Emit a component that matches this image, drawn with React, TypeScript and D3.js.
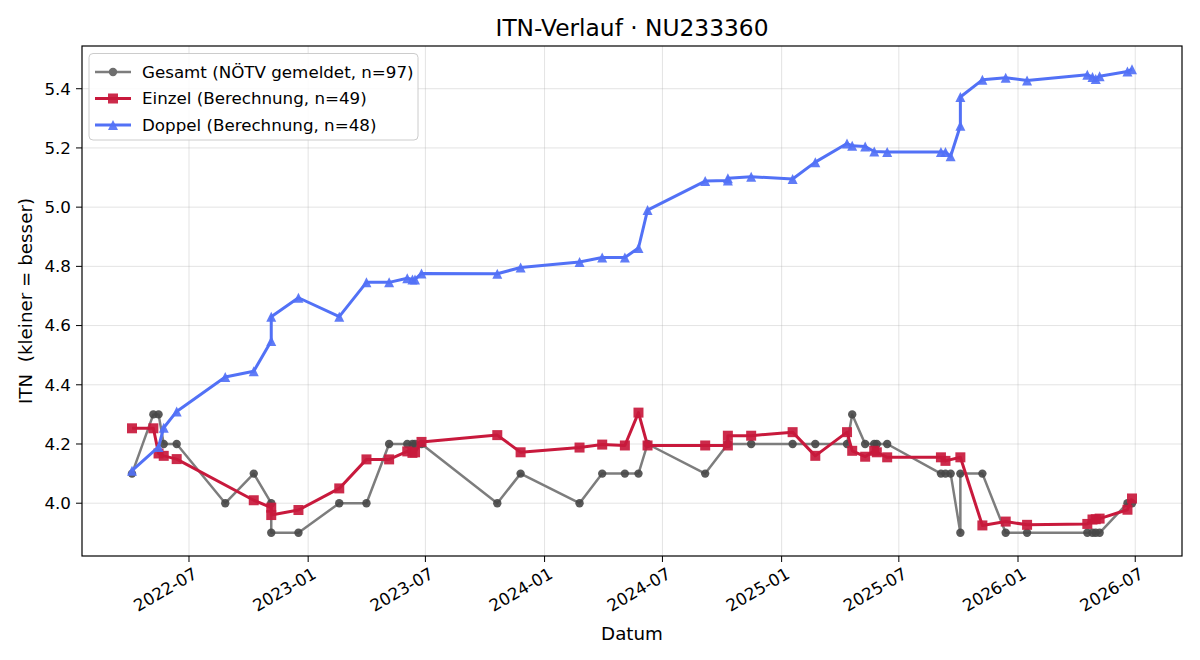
import React from 'react';
import * as d3 from 'd3';

// Gesamt (NÖTV gemeldet)
const gesamtDates = [
  '2022-04-04', '2022-05-07', '2022-05-15', '2022-05-23', '2022-06-12', '2022-08-26', '2022-10-09',
  '2022-11-05', '2022-11-05', '2022-12-17', '2023-02-18', '2023-04-01', '2023-05-06', '2023-06-03',
  '2023-06-11', '2023-06-15', '2023-06-25', '2023-10-20', '2023-11-25', '2024-02-24', '2024-03-30',
  '2024-05-04', '2024-05-25', '2024-06-08', '2024-09-05', '2024-10-10', '2024-11-15', '2025-01-18',
  '2025-02-22', '2025-04-12', '2025-04-20', '2025-05-10', '2025-05-24', '2025-05-28', '2025-06-13',
  '2025-09-04', '2025-09-11', '2025-09-19', '2025-10-04', '2025-10-04', '2025-11-07', '2025-12-13',
  '2026-01-15', '2026-04-18', '2026-04-26', '2026-05-01', '2026-05-07', '2026-06-19', '2026-06-26',
];
const gesamtValues = [
  4.1, 4.3, 4.3, 4.2, 4.2, 4.0, 4.1,
  4.0, 3.9, 3.9, 4.0, 4.0, 4.2, 4.2,
  4.2, 4.2, 4.2, 4.0, 4.1, 4.0, 4.1,
  4.1, 4.1, 4.2, 4.1, 4.2, 4.2, 4.2,
  4.2, 4.2, 4.3, 4.2, 4.2, 4.2, 4.2,
  4.1, 4.1, 4.1, 3.9, 4.1, 4.1, 3.9,
  3.9, 3.9, 3.9, 3.9, 3.9, 4.0, 4.0,
];

// Einzel (Berechnung)
const einzelDates = [
  '2022-04-04', '2022-05-07', '2022-05-15', '2022-05-23', '2022-06-12', '2022-10-09', '2022-11-05',
  '2022-11-05', '2022-12-17', '2023-02-18', '2023-04-01', '2023-05-06', '2023-06-03', '2023-06-11',
  '2023-06-15', '2023-06-25', '2023-10-20', '2023-11-25', '2024-02-24', '2024-03-30', '2024-05-04',
  '2024-05-25', '2024-06-08', '2024-09-05', '2024-10-10', '2024-10-10', '2024-11-15', '2025-01-18',
  '2025-02-22', '2025-04-12', '2025-04-20', '2025-05-10', '2025-05-24', '2025-05-28', '2025-06-13',
  '2025-09-04', '2025-09-11', '2025-10-04', '2025-11-07', '2025-12-13', '2026-01-15', '2026-04-18',
  '2026-04-26', '2026-05-01', '2026-05-07', '2026-06-19', '2026-06-26',
];
const einzelValues = [
  4.253, 4.253, 4.168, 4.16, 4.149, 4.01, 3.985,
  3.96, 3.977, 4.05, 4.148, 4.148, 4.175, 4.17,
  4.172, 4.207, 4.23, 4.172, 4.188, 4.198, 4.195,
  4.306, 4.195, 4.195, 4.195, 4.228, 4.228, 4.24,
  4.16, 4.24, 4.177, 4.157, 4.177, 4.172, 4.155,
  4.155, 4.143, 4.155, 3.925, 3.938, 3.927, 3.93,
  3.945, 3.946, 3.948, 3.978, 4.016,
];

// Doppel (Berechnung)
const doppelDates = [
  '2022-04-04', '2022-05-15', '2022-05-23', '2022-06-12', '2022-08-26', '2022-10-09', '2022-11-05',
  '2022-11-05', '2022-12-17', '2023-02-18', '2023-04-01', '2023-05-06', '2023-06-03', '2023-06-11',
  '2023-06-15', '2023-06-25', '2023-10-20', '2023-11-25', '2024-02-24', '2024-03-30', '2024-05-04',
  '2024-05-25', '2024-06-08', '2024-09-05', '2024-10-10', '2024-10-10', '2024-11-15', '2025-01-18',
  '2025-02-22', '2025-04-12', '2025-04-20', '2025-05-10', '2025-05-24', '2025-06-13', '2025-09-04',
  '2025-09-11', '2025-09-19', '2025-10-04', '2025-10-04', '2025-11-07', '2025-12-13', '2026-01-15',
  '2026-04-18', '2026-04-26', '2026-05-01', '2026-05-07', '2026-06-19', '2026-06-26',
];
const doppelValues = [
  4.11, 4.19, 4.255, 4.31, 4.426, 4.446, 4.548,
  4.63, 4.694, 4.63, 4.746, 4.746, 4.76, 4.756,
  4.756, 4.776, 4.775, 4.796, 4.815, 4.83, 4.83,
  4.862, 4.99, 5.088, 5.09, 5.098, 5.103, 5.095,
  5.152, 5.215, 5.207, 5.205, 5.188, 5.186, 5.186,
  5.186, 5.172, 5.275, 5.372, 5.43, 5.437, 5.428,
  5.447, 5.44, 5.433, 5.442, 5.458, 5.466,
];

const yTicks = [4.0, 4.2, 4.4, 4.6, 4.8, 5.0, 5.2, 5.4];

const W = 1200;
const H = 660;
const margin = { top: 46, right: 18, bottom: 104, left: 82 };
const FONT = 'DejaVu Sans, sans-serif';

const parse = d3.timeParse('%Y-%m-%d');

type Pt = { d: Date; v: number };
const zipSeries = (dates: string[], vals: number[]): Pt[] =>
  dates.map((s, i) => ({ d: parse(s) as Date, v: vals[i] }));

const gesamt = zipSeries(gesamtDates, gesamtValues);
const einzel = zipSeries(einzelDates, einzelValues);
const doppel = zipSeries(doppelDates, doppelValues);

const GRAY_LINE = '#7d7d7d';
const GRAY_MARK = '#474747';
const RED = '#c8193c';
const BLUE = '#5271f6';

const trianglePath = (x: number, y: number, s: number) =>
  `M${x},${y - s}L${x - s},${y + s}L${x + s},${y + s}Z`;

export default function App() {
  const all = [...gesamt, ...einzel, ...doppel];
  const [dMin, dMax] = d3.extent(all, p => p.d) as [Date, Date];
  const [vMin, vMax] = d3.extent(all, p => p.v) as [number, number];
  const dPad = (dMax.getTime() - dMin.getTime()) * 0.05;
  const vPad = (vMax - vMin) * 0.05;

  const innerW = W - margin.left - margin.right;
  const innerH = H - margin.top - margin.bottom;

  const x = d3.scaleTime()
    .domain([new Date(dMin.getTime() - dPad), new Date(dMax.getTime() + dPad)])
    .range([margin.left, margin.left + innerW]);
  const y = d3.scaleLinear()
    .domain([vMin - vPad, vMax + vPad])
    .range([margin.top + innerH, margin.top]);

  const xTicks = x.ticks(d3.timeMonth.every(6) as d3.TimeInterval);
  const fmt = d3.timeFormat('%Y-%m');

  const line = d3.line<Pt>().x(p => x(p.d)).y(p => y(p.v));

  const bottom = margin.top + innerH;
  const right = margin.left + innerW;

  return (
    <div style={{ position: 'absolute', left: 0, top: 0, width: W, height: H, background: '#fff' }}>
      <svg width={W} height={H} style={{ fontFamily: FONT, display: 'block' }}>
        <rect x={0} y={0} width={W} height={H} fill="#fff" />

        {/* grid */}
        <g stroke="#b0b0b0" strokeOpacity={0.35} strokeWidth={1}>
          {xTicks.map((t, i) => (
            <line key={'gx' + i} x1={x(t)} x2={x(t)} y1={margin.top} y2={bottom} />
          ))}
          {yTicks.map((t, i) => (
            <line key={'gy' + i} x1={margin.left} x2={right} y1={y(t)} y2={y(t)} />
          ))}
        </g>

        {/* Gesamt */}
        <path d={line(gesamt) || ''} fill="none" stroke={GRAY_LINE} strokeWidth={2.5} strokeLinejoin="round" />
        {gesamt.map((p, i) => (
          <circle key={'g' + i} cx={x(p.d)} cy={y(p.v)} r={4.2} fill={GRAY_MARK} fillOpacity={0.9} />
        ))}

        {/* Einzel */}
        <path d={line(einzel) || ''} fill="none" stroke={RED} strokeWidth={3} strokeLinejoin="round" />
        {einzel.map((p, i) => (
          <rect key={'e' + i} x={x(p.d) - 5} y={y(p.v) - 5} width={10} height={10}
            fill={RED} fillOpacity={0.92} />
        ))}

        {/* Doppel */}
        <path d={line(doppel) || ''} fill="none" stroke={BLUE} strokeWidth={3} strokeLinejoin="round" />
        {doppel.map((p, i) => (
          <path key={'d' + i} d={trianglePath(x(p.d), y(p.v), 5)} fill={BLUE} fillOpacity={0.92} />
        ))}

        {/* frame */}
        <rect x={margin.left} y={margin.top} width={innerW} height={innerH}
          fill="none" stroke="#000" strokeWidth={1.2} />

        {/* x axis */}
        {xTicks.map((t, i) => (
          <g key={'xt' + i}>
            <line x1={x(t)} x2={x(t)} y1={bottom} y2={bottom + 6} stroke="#000" strokeWidth={1} />
            <text
              transform={`translate(${x(t) + 3},${bottom + 10}) rotate(-30)`}
              textAnchor="end" dominantBaseline="hanging" fontSize={16.7} fill="#000"
            >{fmt(t)}</text>
          </g>
        ))}

        {/* y axis */}
        {yTicks.map((t, i) => (
          <g key={'yt' + i}>
            <line x1={margin.left - 6} x2={margin.left} y1={y(t)} y2={y(t)} stroke="#000" strokeWidth={1} />
            <text x={margin.left - 11} y={y(t)} dy="0.35em" textAnchor="end" fontSize={16.7} fill="#000">
              {t.toFixed(1)}
            </text>
          </g>
        ))}

        {/* labels */}
        <text x={(margin.left + right) / 2} y={640} textAnchor="middle" fontSize={18.3} fill="#000">Datum</text>
        <text transform={`translate(32,${(margin.top + bottom) / 2}) rotate(-90)`}
          textAnchor="middle" fontSize={18.3} fill="#000" style={{ whiteSpace: 'pre' }}>
          {'ITN  (kleiner = besser)'}
        </text>
        <text x={(margin.left + right) / 2} y={36} textAnchor="middle" fontSize={23.3} fill="#000">
          ITN-Verlauf · NU233360
        </text>

        {/* legend */}
        <g>
          <rect x={89} y={53.5} width={329} height={86.5} rx={4} fill="#fff" fillOpacity={0.85}
            stroke="#cccccc" strokeWidth={1} />
          <g transform="translate(0,72)">
            <line x1={95} x2={131} y1={0} y2={0} stroke={GRAY_LINE} strokeWidth={2.5} />
            <circle cx={113} cy={0} r={4.2} fill="#6e6e6e" />
            <text x={142} y={0} dy="0.35em" fontSize={16.7} fill="#000">Gesamt (NÖTV gemeldet, n=97)</text>
          </g>
          <g transform="translate(0,98.5)">
            <line x1={95} x2={131} y1={0} y2={0} stroke={RED} strokeWidth={3} />
            <rect x={108} y={-5} width={10} height={10} fill={RED} fillOpacity={0.92} />
            <text x={142} y={0} dy="0.35em" fontSize={16.7} fill="#000">Einzel (Berechnung, n=49)</text>
          </g>
          <g transform="translate(0,125)">
            <line x1={95} x2={131} y1={0} y2={0} stroke={BLUE} strokeWidth={3} />
            <path d={trianglePath(113, 0, 5)} fill={BLUE} fillOpacity={0.92} />
            <text x={142} y={0} dy="0.35em" fontSize={16.7} fill="#000">Doppel (Berechnung, n=48)</text>
          </g>
        </g>
      </svg>
    </div>
  );
}
